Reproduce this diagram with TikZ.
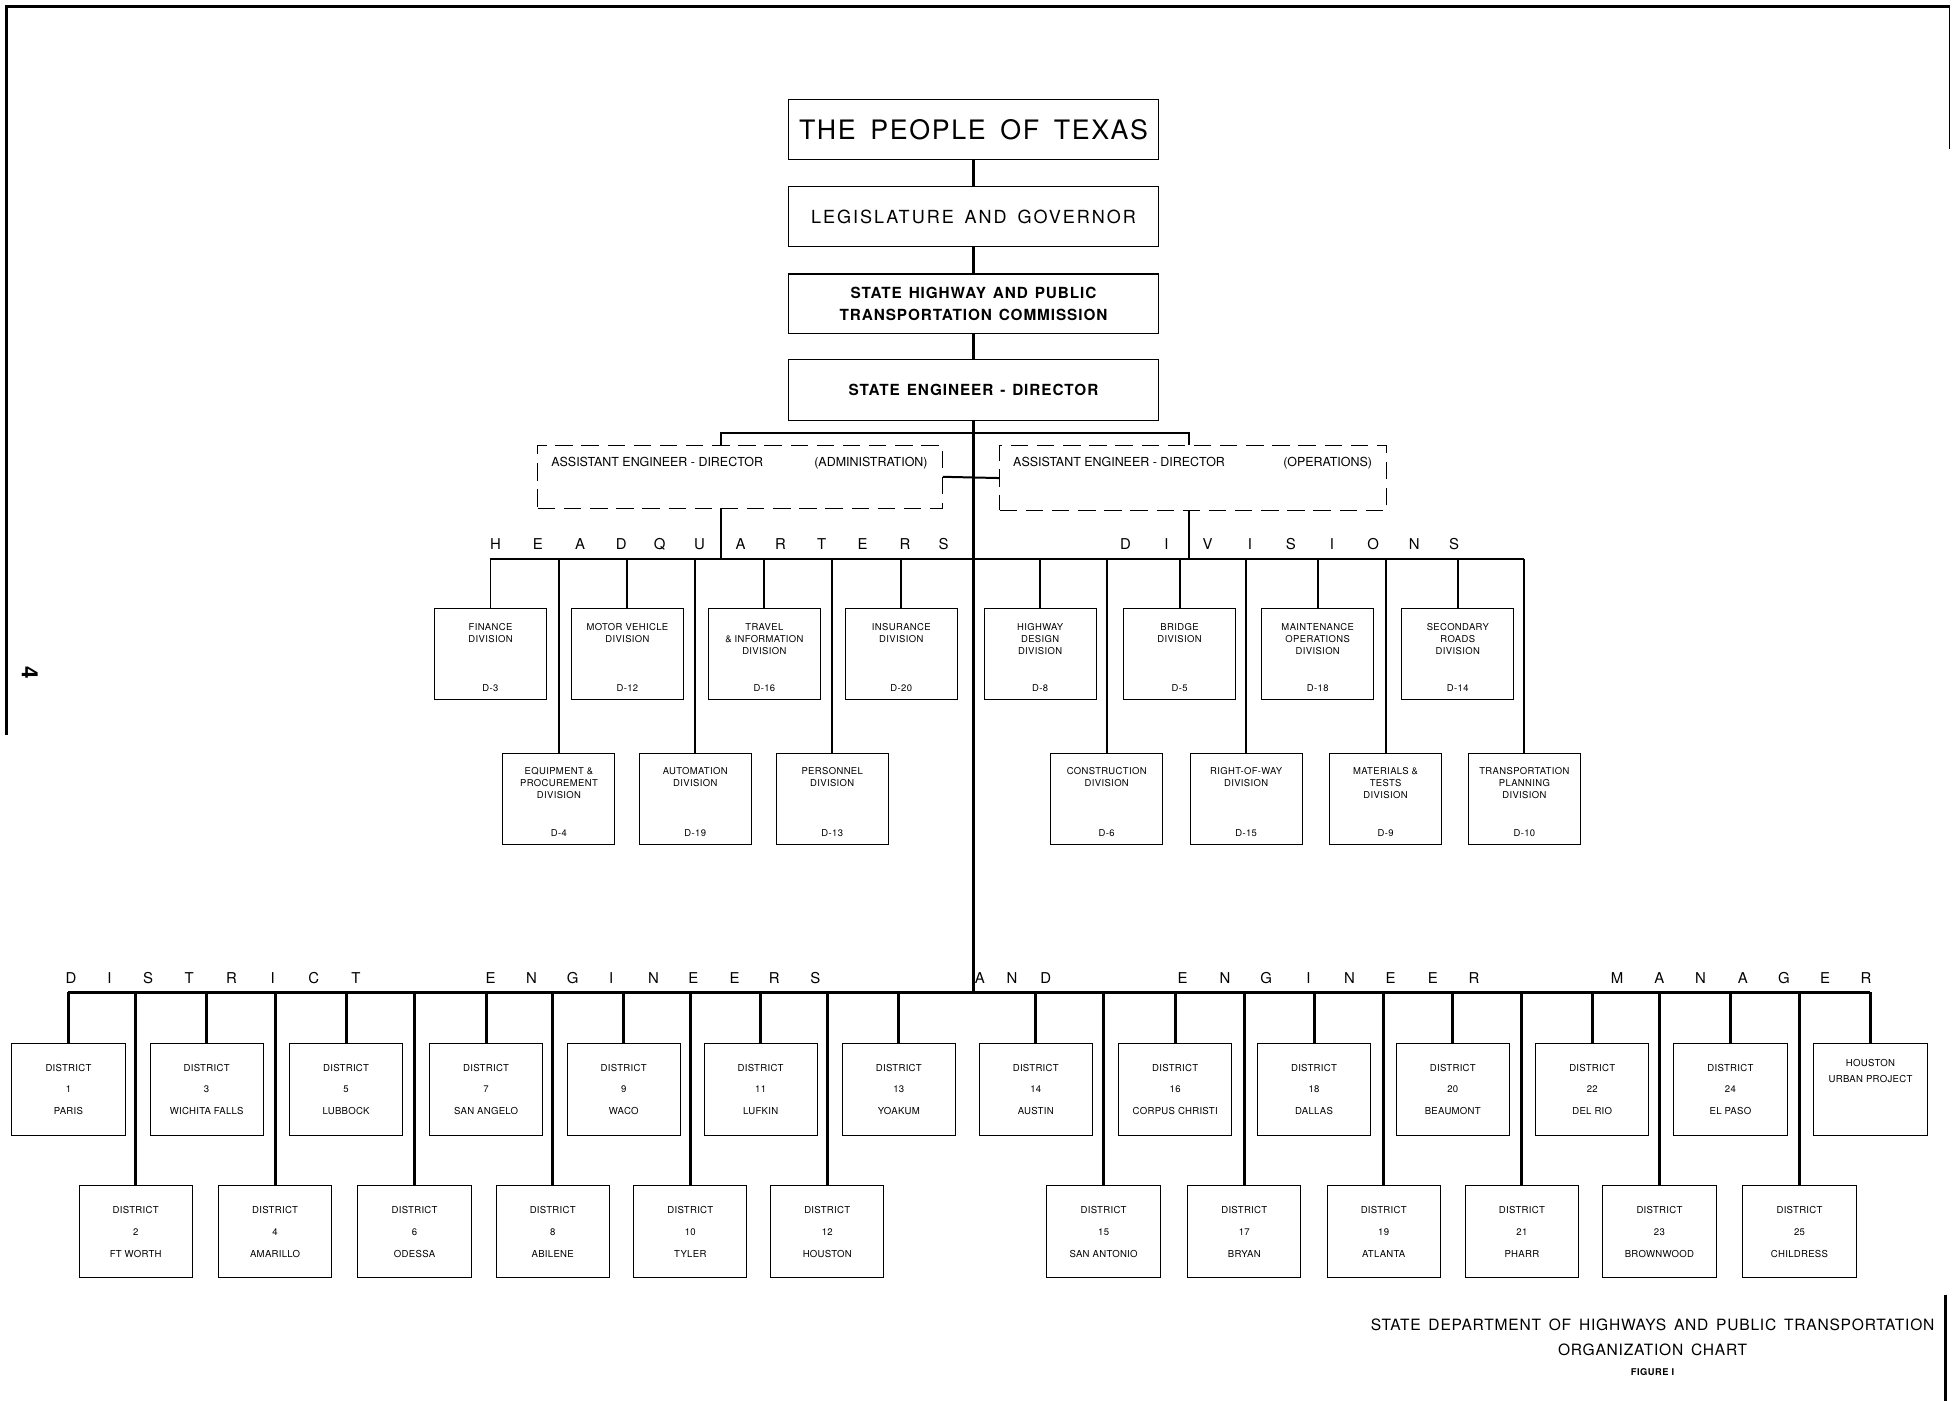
\documentclass[tikz,border=0pt]{standalone}
\usepackage{fontspec}
\setmainfont{TeX Gyre Heros}
\usetikzlibrary{positioning}
\newcommand{\wsp}[1]{\spaceskip=#1\relax}

\begin{document}
\begin{tikzpicture}[x=1pt, y=-1pt,
    topbox/.style={draw, line width=1.1pt, minimum width=297, minimum height=48, inner sep=0pt},
    asstbox/.style={draw, line width=0.6pt, dash pattern=on 14pt off 7pt, inner sep=0pt},
    asttext/.style={inner sep=0pt, font=\fontsize{10}{10}\selectfont},
    divbox/.style={draw, line width=0.8pt, minimum width=90, minimum height=73, inner sep=0pt},
    divname/.style={anchor=north, yshift=-12pt, align=center, inner sep=0pt, font=\fontsize{7.6}{9.5}\selectfont\addfontfeatures{LetterSpace=4}},
    divcode/.style={anchor=south, yshift=6.5pt, inner sep=0pt, font=\fontsize{7.6}{9}\selectfont\addfontfeatures{LetterSpace=4}},
    distbox/.style={draw, line width=0.8pt, minimum width=91, minimum height=74, inner sep=0pt, align=center, font=\fontsize{7.7}{17.5}\selectfont\addfontfeatures{LetterSpace=3}},
    spread/.style={inner sep=0pt, font=\fontsize{12}{12}\selectfont},
    trunk/.style={line width=2.6pt},
    hqline/.style={line width=1.6pt},
    dline/.style={line width=2.4pt}]
    \useasboundingbox (0,0) rectangle (1568,1125);

    % 页框
    \draw[line width=2.4pt] (5,590) -- (5,5) -- (1566,5);
    \draw[line width=0.8pt] (1566,5) -- (1566,120);
    \draw[line width=2.4pt] (1563,1040) -- (1563,1125);
    \node[rotate=-90, inner sep=0pt, font=\bfseries\fontsize{18}{18}\selectfont] (pagenum) at (24,540) {4};

    % 顶层
    \node[topbox, font=\fontsize{21.5}{24}\selectfont\addfontfeatures{LetterSpace=6}\wsp{.55em}] (people) at (782,104) {THE PEOPLE OF TEXAS};
    \node[topbox, font=\fontsize{14.5}{16}\selectfont\addfontfeatures{LetterSpace=11}\wsp{.6em}] (legis) at (782,174) {LEGISLATURE AND GOVERNOR};
    \node[topbox, align=center, font=\bfseries\fontsize{12.3}{17.4}\selectfont\addfontfeatures{LetterSpace=6}\wsp{.45em}] (comm) at (782,244) {STATE HIGHWAY AND PUBLIC\\TRANSPORTATION COMMISSION};
    \node[topbox, minimum height=49, font=\bfseries\fontsize{12.3}{14}\selectfont\addfontfeatures{LetterSpace=6}\wsp{.45em}] (eng) at (782,313.5) {STATE ENGINEER - DIRECTOR};

    \draw[trunk] (people) -- (legis);
    \draw[trunk] (legis) -- (comm);
    \draw[trunk] (comm) -- (eng);
    \coordinate (hqbus) at (782,449);
    \coordinate (dbus) at (780,797);
    \draw[trunk] (eng.south) -- (eng.south |- dbus);

    % 助理
    \node[asstbox, minimum width=325, minimum height=50,
        label={[asttext, anchor=north west, xshift=11pt, yshift=-9pt]north west:ASSISTANT ENGINEER - DIRECTOR},
        label={[asttext, anchor=north east, xshift=-12pt, yshift=-9pt]north east:(ADMINISTRATION)}] (asl) at (594.5,383) {};
    \node[asstbox, minimum width=311, minimum height=52,
        label={[asttext, anchor=north west, xshift=11pt, yshift=-9pt]north west:ASSISTANT ENGINEER - DIRECTOR},
        label={[asttext, anchor=north east, xshift=-12pt, yshift=-9pt]north east:(OPERATIONS)}] (asr) at (958.5,384) {};
    \draw[hqline] ([xshift=-15.5pt]asl.north) -- ++(0,-10) -| ([xshift=-3.5pt]asr.north);
    \draw[hqline] (asl.east) -- (asr.west);
    \draw[hqline] ([xshift=-15.5pt]asl.south) -- ([xshift=-15.5pt]asl.south |- hqbus);
    \draw[hqline] ([xshift=-3.5pt]asr.south) -- ([xshift=-3.5pt]asr.south |- hqbus);

    % 总部各处
    \foreach \l/\x [count=\i] in {H/398,E/432,A/466,D/499,Q/530,U/562,A/595,R/627,T/660,E/693,R/727,S/758,
        D/904,I/937,V/970,I/1004,S/1037,I/1070,O/1103,N/1136,S/1168}
        \node[spread] (hq\i) at (\x,437) {\l};

    \node[divbox, label={[divname]north:{FINANCE\\DIVISION}}, label={[divcode]south:D-3}] (fin) at (394,525.5) {};
    \node[divbox, label={[divname]north:{MOTOR VEHICLE\\DIVISION}}, label={[divcode]south:D-12}] (mvd) at (504,525.5) {};
    \node[divbox, label={[divname]north:{TRAVEL\\\& INFORMATION\\DIVISION}}, label={[divcode]south:D-16}] (trv) at (614,525.5) {};
    \node[divbox, label={[divname]north:{INSURANCE\\DIVISION}}, label={[divcode]south:D-20}] (ins) at (724,525.5) {};
    \node[divbox, label={[divname]north:{HIGHWAY\\DESIGN\\DIVISION}}, label={[divcode]south:D-8}] (hwd) at (835.5,525.5) {};
    \node[divbox, label={[divname]north:{BRIDGE\\DIVISION}}, label={[divcode]south:D-5}] (brg) at (947.5,525.5) {};
    \node[divbox, label={[divname]north:{MAINTENANCE\\OPERATIONS\\DIVISION}}, label={[divcode]south:D-18}] (mnt) at (1058.5,525.5) {};
    \node[divbox, label={[divname]north:{SECONDARY\\ROADS\\DIVISION}}, label={[divcode]south:D-14}] (sec) at (1171,525.5) {};

    \node[divbox, label={[divname]north:{EQUIPMENT \&\\PROCUREMENT\\DIVISION}}, label={[divcode]south:D-4}] (eqp) at (449,641.5) {};
    \node[divbox, label={[divname]north:{AUTOMATION\\DIVISION}}, label={[divcode]south:D-19}] (aut) at (558.5,641.5) {};
    \node[divbox, label={[divname]north:{PERSONNEL\\DIVISION}}, label={[divcode]south:D-13}] (per) at (668.5,641.5) {};
    \node[divbox, label={[divname]north:{CONSTRUCTION\\DIVISION}}, label={[divcode]south:D-6}] (con) at (889,641.5) {};
    \node[divbox, label={[divname]north:{RIGHT-OF-WAY\\DIVISION}}, label={[divcode]south:D-15}] (row) at (1001,641.5) {};
    \node[divbox, label={[divname]north:{MATERIALS \&\\TESTS\\DIVISION}}, label={[divcode]south:D-9}] (mat) at (1113,641.5) {};
    \node[divbox, label={[divname]north:{TRANSPORTATION\\PLANNING\\DIVISION}}, label={[divcode]south:D-10}] (tpl) at (1224.5,641.5) {};

    \draw[hqline] (fin.north |- hqbus) -- (tpl.north |- hqbus);
    \foreach \n in {fin,mvd,trv,ins,hwd,brg,mnt,sec,eqp,aut,per,con,row,mat,tpl}
        \draw[hqline] (\n.north) -- (\n.north |- hqbus);

    % 各区
    \foreach \l/\x [count=\i] in {D/57,I/88,S/119,T/152,R/186,I/219,C/252,T/286,
        E/394,N/427,G/460,I/491,N/525,E/557,E/590,R/622,S/655,A/787,N/813,D/840,
        E/950,N/984,G/1017,I/1051,N/1084,E/1117,E/1151,R/1184,
        M/1299,A/1333,N/1366,A/1400,G/1433,E/1466,R/1499}
        \node[spread] (de\i) at (\x,786) {\l};

    \node[distbox] (d1) at (55,875) {DISTRICT\\1\\PARIS};
    \node[distbox] (d3) at (166,875) {DISTRICT\\3\\WICHITA FALLS};
    \node[distbox] (d5) at (278,875) {DISTRICT\\5\\LUBBOCK};
    \node[distbox] (d7) at (390.5,875) {DISTRICT\\7\\SAN ANGELO};
    \node[distbox] (d9) at (501,875) {DISTRICT\\9\\WACO};
    \node[distbox] (d11) at (611,875) {DISTRICT\\11\\LUFKIN};
    \node[distbox] (d13) at (722,875) {DISTRICT\\13\\YOAKUM};
    \node[distbox] (d14) at (832,875) {DISTRICT\\14\\AUSTIN};
    \node[distbox] (d16) at (944,875) {DISTRICT\\16\\CORPUS CHRISTI};
    \node[distbox] (d18) at (1055.5,875) {DISTRICT\\18\\DALLAS};
    \node[distbox] (d20) at (1167,875) {DISTRICT\\20\\BEAUMONT};
    \node[distbox] (d22) at (1279,875) {DISTRICT\\22\\DEL RIO};
    \node[distbox] (d24) at (1390,875) {DISTRICT\\24\\EL PASO};
    \node[distbox, label={[anchor=north, yshift=-13pt, inner sep=0pt, align=center, font=\fontsize{7.7}{13}\selectfont\addfontfeatures{LetterSpace=3}]north:{HOUSTON\\URBAN PROJECT}}] (hup) at (1502.5,875) {};

    \node[distbox] (d2) at (109,989.5) {DISTRICT\\2\\FT WORTH};
    \node[distbox] (d4) at (221,989.5) {DISTRICT\\4\\AMARILLO};
    \node[distbox] (d6) at (333,989.5) {DISTRICT\\6\\ODESSA};
    \node[distbox] (d8) at (444,989.5) {DISTRICT\\8\\ABILENE};
    \node[distbox] (d10) at (554.5,989.5) {DISTRICT\\10\\TYLER};
    \node[distbox] (d12) at (664.5,989.5) {DISTRICT\\12\\HOUSTON};
    \node[distbox] (d15) at (886.5,989.5) {DISTRICT\\15\\SAN ANTONIO};
    \node[distbox] (d17) at (999.5,989.5) {DISTRICT\\17\\BRYAN};
    \node[distbox] (d19) at (1111.5,989.5) {DISTRICT\\19\\ATLANTA};
    \node[distbox] (d21) at (1222.5,989.5) {DISTRICT\\21\\PHARR};
    \node[distbox] (d23) at (1333,989.5) {DISTRICT\\23\\BROWNWOOD};
    \node[distbox] (d25) at (1445.5,989.5) {DISTRICT\\25\\CHILDRESS};

    \draw[dline] (d1.north |- dbus) -- (hup.north |- dbus);
    \foreach \n in {d1,d2,d3,d4,d5,d6,d7,d8,d9,d10,d11,d12,d13,d14,d15,d16,d17,d18,d19,d20,d21,d22,d23,d24,d25,hup}
        \draw[dline] (\n.north) -- (\n.north |- dbus);

    % 图题
    \node[font=\fontsize{12.5}{14}\selectfont\addfontfeatures{LetterSpace=5}\wsp{.5em}] (title) at (1327.5,1064) {STATE DEPARTMENT OF HIGHWAYS AND PUBLIC TRANSPORTATION};
    \node[font=\fontsize{12.5}{14}\selectfont\addfontfeatures{LetterSpace=5}\wsp{.5em}] (subtitle) at (1327.5,1084) {ORGANIZATION CHART};
    \node[font=\bfseries\fontsize{7.5}{9}\selectfont\addfontfeatures{LetterSpace=5}] (figno) at (1327.5,1102) {FIGURE I};
\end{tikzpicture}
\end{document}
